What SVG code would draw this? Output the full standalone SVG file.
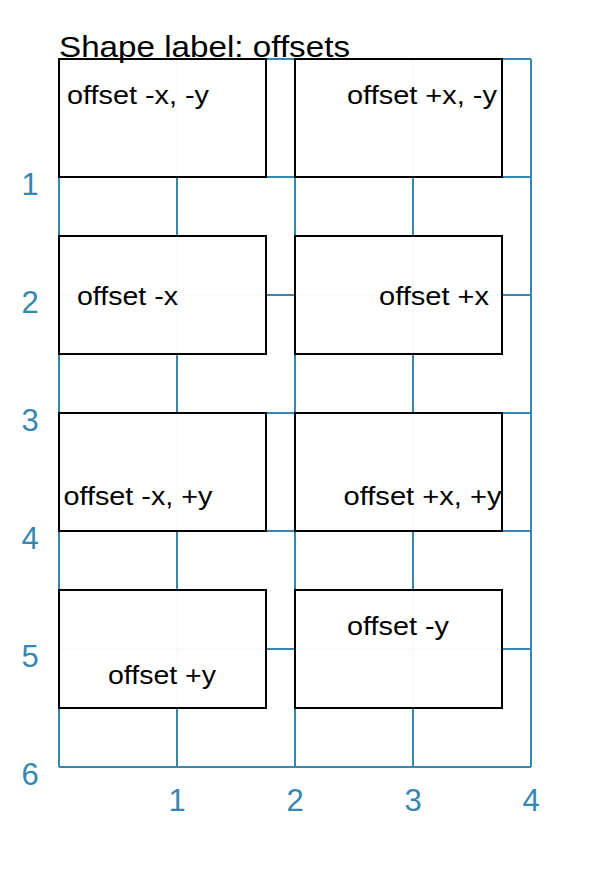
<svg xmlns="http://www.w3.org/2000/svg" width="613" height="875" viewBox="0 0 613 875">
<style>
.grid line{stroke:#3587b0;stroke-width:2;fill:none}
.ax{font-family:"Liberation Sans",Arial,sans-serif;font-size:31px;fill:#3587b0;text-anchor:middle}
.box rect{fill:#ffffff;fill-opacity:0.97;stroke:#000;stroke-width:2}
.lbl{font-family:"Liberation Sans",Arial,sans-serif;font-size:26px;fill:#000}
.title{font-family:"Liberation Sans",Arial,sans-serif;font-size:29.5px;fill:#000}
</style>
<rect width="613" height="875" fill="#ffffff"/>
<g id="connectors" class="grid">
<line x1="59" y1="59" x2="59" y2="767"/>
<line x1="177" y1="59" x2="177" y2="767"/>
<line x1="295" y1="59" x2="295" y2="767"/>
<line x1="413" y1="59" x2="413" y2="767"/>
<line x1="531" y1="59" x2="531" y2="767"/>
<line x1="59" y1="59" x2="531" y2="59"/>
<line x1="59" y1="177" x2="531" y2="177"/>
<line x1="59" y1="295" x2="531" y2="295"/>
<line x1="59" y1="413" x2="531" y2="413"/>
<line x1="59" y1="531" x2="531" y2="531"/>
<line x1="59" y1="649" x2="531" y2="649"/>
<line x1="59" y1="767" x2="531" y2="767"/>
</g>
<g id="axis-labels">
<text class="ax" x="30" y="195">1</text>
<text class="ax" x="30" y="313">2</text>
<text class="ax" x="30" y="431">3</text>
<text class="ax" x="30" y="549">4</text>
<text class="ax" x="30" y="667">5</text>
<text class="ax" x="30" y="785">6</text>
<text class="ax" x="177" y="811">1</text>
<text class="ax" x="295" y="811">2</text>
<text class="ax" x="413" y="811">3</text>
<text class="ax" x="531" y="811">4</text>
</g>
<g id="node-1" class="box"><rect x="59" y="59" width="207" height="118"/><text class="lbl" x="67" y="104" textLength="142" lengthAdjust="spacingAndGlyphs">offset -x, -y</text></g>
<g id="node-2" class="box"><rect x="295" y="59" width="207" height="118"/><text class="lbl" x="347" y="104" textLength="150" lengthAdjust="spacingAndGlyphs">offset +x, -y</text></g>
<g id="node-3" class="box"><rect x="59" y="236" width="207" height="118"/><text class="lbl" x="77" y="305" textLength="101" lengthAdjust="spacingAndGlyphs">offset -x</text></g>
<g id="node-4" class="box"><rect x="295" y="236" width="207" height="118"/><text class="lbl" x="379" y="305" textLength="110" lengthAdjust="spacingAndGlyphs">offset +x</text></g>
<g id="node-5" class="box"><rect x="59" y="413" width="207" height="118"/><text class="lbl" x="63.5" y="505" textLength="149" lengthAdjust="spacingAndGlyphs">offset -x, +y</text></g>
<g id="node-6" class="box"><rect x="295" y="413" width="207" height="118"/><text class="lbl" x="343.5" y="505" textLength="158" lengthAdjust="spacingAndGlyphs">offset +x, +y</text></g>
<g id="node-7" class="box"><rect x="59" y="590" width="207" height="118"/><text class="lbl" x="108" y="684" textLength="108" lengthAdjust="spacingAndGlyphs">offset +y</text></g>
<g id="node-8" class="box"><rect x="295" y="590" width="207" height="118"/><text class="lbl" x="347" y="635" textLength="102" lengthAdjust="spacingAndGlyphs">offset -y</text></g>
<text class="title" x="59" y="57" textLength="291" lengthAdjust="spacingAndGlyphs">Shape label: offsets</text>
</svg>
